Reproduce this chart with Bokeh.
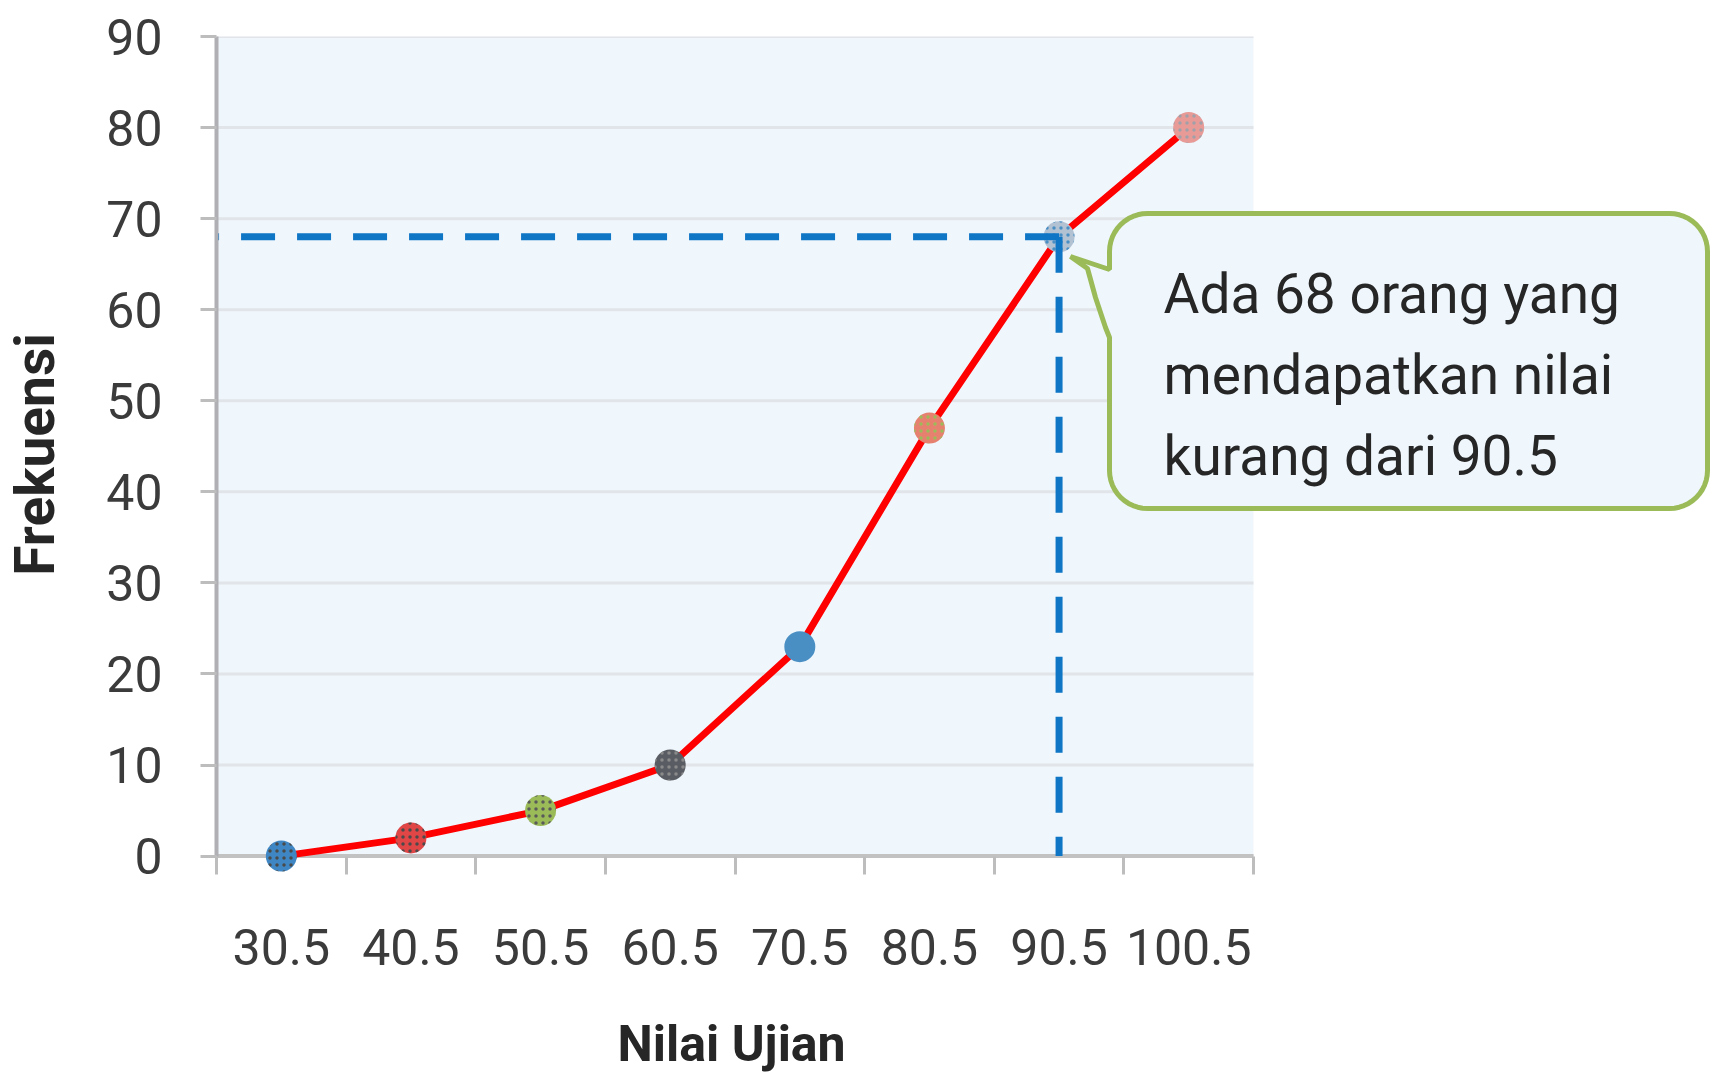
import math
from bokeh.plotting import figure
from bokeh.models import (Range1d, FixedTicker, CustomJSTickFormatter, BoxAnnotation,
                          PolyAnnotation, Label, ColumnDataSource, Title)
from bokeh.embed import file_html
from bokeh.resources import INLINE

# ---------------- data ----------------
categories = ["30.5", "40.5", "50.5", "60.5", "70.5", "80.5", "90.5", "100.5"]
frequencies = [0, 2, 5, 10, 23, 47, 68, 80]
marker_colors = ["#3f87c4", "#e04646", "#9bbb59", "#595c62", "#4a8fc4", "#e6806f", "#b3c2d3", "#e89b96"]
marker_hatch = ["dot", "dot", "dot", "dot", " ", "dot", "dot", "dot"]
hatch_colors = ["#4a4a4a", "#4a4a4a", "#5a5a5a", "#8a8a8a", "#4a8fc4", "#9bbb59", "#4a8fc4", "#a0a0a8"]
y_ticks = [0, 10, 20, 30, 40, 50, 60, 70, 80, 90]
highlight = "90.5"
callout_lines = ["Ada 68 orang yang", "mendapatkan nilai", "kurang dari 90.5"]
x_title = "Nilai Ujian"
y_title = "Frekuensi"

# ---------------- layout ----------------
W, H = 1713, 1091
FL, FT, FB = 216, 36, 219
CAT_W = 1037                     # pixel width of the category area
Y0, Y1 = -1.8, 90
n = len(categories)
xc = [i + 0.5 for i in range(n)]
XMAX = n * (W - FL) / CAT_W      # frame extends to the right edge so the callout is not clipped

p = figure(width=W, height=H, x_range=Range1d(0, XMAX), y_range=Range1d(Y0, Y1),
           output_backend="svg", toolbar_location=None,
           min_border_left=FL, min_border_right=0, min_border_top=FT, min_border_bottom=FB)
p.outline_line_color = None
p.background_fill_color = "white"
p.border_fill_color = "white"

FONT = "Roboto"
BG = "#eff7fd"

# plot-area background (0..90)
p.add_layout(BoxAnnotation(left=0, right=n, bottom=0, top=y_ticks[-1], fill_color=BG,
                           fill_alpha=1, line_color=None, level="image"))

# grid lines limited to the category area
p.xgrid.grid_line_color = None
p.ygrid.grid_line_color = None
p.segment(x0=[0] * len(y_ticks), x1=[n] * len(y_ticks), y0=y_ticks, y1=y_ticks,
          line_color="#e1e4e8", line_width=3, level="underlay")
# x axis line at y = 0
p.segment(x0=[0], x1=[n], y0=[y_ticks[0]], y1=[y_ticks[0]],
          line_color="#c2c2c2", line_width=4, level="underlay")

# y axis
p.yaxis.bounds = (y_ticks[0], y_ticks[-1])
p.yaxis.ticker = FixedTicker(ticks=y_ticks)
p.yaxis.axis_line_color = "#b0b0b4"
p.yaxis.axis_line_width = 4
p.yaxis.major_tick_line_color = "#bdbdbd"
p.yaxis.major_tick_line_width = 3
p.yaxis.major_tick_out = 16
p.yaxis.major_tick_in = 0
p.yaxis.minor_tick_line_color = None
p.yaxis.major_label_text_font = FONT
p.yaxis.major_label_text_font_size = "50px"
p.yaxis.major_label_text_color = "#3b3b3b"
p.yaxis.major_label_standoff = 38
p.yaxis.axis_label = y_title
p.yaxis.axis_label_text_font = FONT
p.yaxis.axis_label_text_font_style = "bold"
p.yaxis.axis_label_text_font_size = "55px"
p.yaxis.axis_label_text_color = "#262626"
p.yaxis.axis_label_standoff = 36

# x axis: labels at category centres, tick marks at category boundaries
p.xaxis.bounds = (0, n)
p.xaxis.ticker = FixedTicker(ticks=xc, minor_ticks=list(range(n + 1)))
p.xaxis.formatter = CustomJSTickFormatter(
    args=dict(labels=categories),
    code="const i = Math.round(tick - 0.5); return (i >= 0 && i < labels.length) ? labels[i] : '';")
p.xaxis.axis_line_color = None
p.xaxis.major_tick_line_color = None
p.xaxis.major_tick_out = 2
p.xaxis.major_tick_in = 0
p.xaxis.minor_tick_line_color = "#bdbdbd"
p.xaxis.minor_tick_line_width = 3
p.xaxis.minor_tick_in = 16
p.xaxis.minor_tick_out = 2
p.xaxis.major_label_text_font = FONT
p.xaxis.major_label_text_font_size = "50px"
p.xaxis.major_label_text_color = "#3b3b3b"
p.xaxis.major_label_standoff = 54

# x axis title, placed under the category area
p.add_layout(Title(text=x_title, align="left", offset=401, standoff=10,
                   padding=dict(left=0, right=0, top=40, bottom=0),
                   text_font=FONT, text_font_style="bold", text_font_size="50px",
                   text_color="#262626"), "below")

# data
src = ColumnDataSource(dict(x=xc, y=frequencies, color=marker_colors,
                            hatch=marker_hatch, hcolor=hatch_colors))
p.line(x=xc, y=frequencies, line_color="#ff0000", line_width=7)
p.scatter("x", "y", source=src, size=31, fill_color="color", line_color=None,
          hatch_pattern="hatch", hatch_color="hcolor", hatch_scale=7, hatch_weight=2)

# dashed guide lines to the highlighted point
idx = categories.index(highlight)
hx, hy = xc[idx], frequencies[idx]
p.line(x=[hx, 0], y=[hy, hy], line_color="#0f75c5", line_width=7, line_dash="34 22")
p.line(x=[hx, hx], y=[hy, 0], line_color="#0f75c5", line_width=7, line_dash="36 24")

# ---------------- callout (pixel geometry converted to data units) ----------------
sx = CAT_W / n
sy = (H - FT - FB) / (Y1 - Y0)


def X(px):
    return (px - FL) / sx


def Y(py):
    return Y1 - (py - FT) / sy


L, R, T, B, r = 1109, 1707, 213, 508, 38
pts = [(L, 269), (L, T + r)]


def arc(cx, cy, a0, a1, steps=12):
    out = []
    for k in range(steps + 1):
        a = math.radians(a0 + (a1 - a0) * k / steps)
        out.append((cx + r * math.cos(a), cy + r * math.sin(a)))
    return out


pts += arc(L + r, T + r, 180, 270)
pts += arc(R - r, T + r, 270, 360)
pts += arc(R - r, B - r, 0, 90)
pts += arc(L + r, B - r, 90, 180)
pts += [(L, 337), (1105, 327), (1095, 297), (1087, 268), (1070, 256)]

p.add_layout(PolyAnnotation(xs=[X(a) for a, b in pts], ys=[Y(b) for a, b in pts],
                            fill_color=BG, fill_alpha=1, line_color="#9bbb59",
                            line_alpha=1, line_width=5))

for k, line in enumerate(callout_lines):
    p.add_layout(Label(x=X(1163), y=Y(293 + 81 * k), text=line, text_font=FONT,
                       text_font_size="55px", text_color="#262626",
                       text_baseline="alphabetic", text_align="left"))

open("out.html", "w").write(file_html(p, INLINE))
